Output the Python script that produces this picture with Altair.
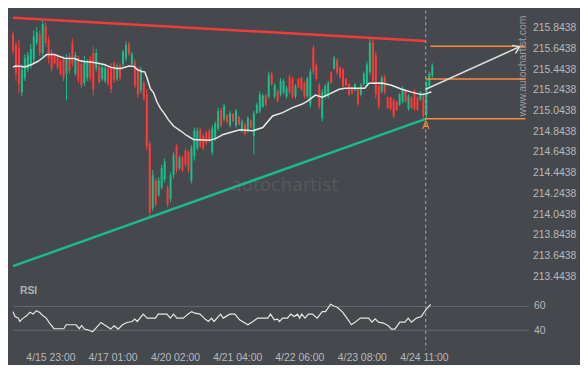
import altair as alt
import pandas as pd

# ---------------- data ----------------
bar_open = [215.78, 215.68, 215.65, 215.22, 215.36, 215.45, 215.48, 215.54, 215.70, 215.78,
            215.60, 215.86, 215.72, 215.60, 215.58, 215.56, 215.52, 215.54, 215.40, 215.57,
            215.70, 215.40, 215.55, 215.49, 215.31, 215.36, 215.54, 215.60, 215.45, 215.47,
            215.35, 215.33, 215.45, 215.47, 215.50, 215.35, 215.48, 215.49, 215.55, 215.69,
            215.49, 215.51, 215.44, 215.24, 215.31, 215.20, 214.72, 214.10, 214.37, 214.23,
            214.30, 214.38, 214.30, 214.19, 214.42, 214.70, 214.49, 214.59, 214.66, 214.64,
            214.37, 214.60, 214.68, 214.86, 214.80, 214.83, 214.85, 214.64, 214.78, 214.87,
            215.05, 214.96, 215.00, 214.90, 215.01, 214.90, 214.98, 214.85, 214.91, 214.85,
            214.95, 214.80, 215.02, 215.04, 215.08, 215.19, 215.18, 215.40, 215.18, 215.23,
            215.20, 215.22, 215.18, 215.37, 215.35, 215.18, 215.35, 215.36, 215.31, 215.18,
            215.10, 215.65, 215.48, 215.29, 214.97, 215.18, 215.18, 215.41, 215.45, 215.53,
            215.46, 215.44, 215.35, 215.30, 215.27, 215.24, 215.25, 215.20, 215.30, 215.30,
            215.42, 215.70, 215.58, 215.28, 215.23, 215.37, 215.17, 215.17, 215.14, 215.13,
            215.10, 215.13, 215.24, 215.06, 215.17, 215.23, 215.17, 215.15, 215.18, 215.00,
            215.28, 215.38]
bar_high = [215.81, 215.71, 215.73, 215.49, 215.59, 215.61, 215.69, 215.82, 215.85, 215.82,
            215.92, 215.90, 215.76, 215.63, 215.59, 215.58, 215.54, 215.57, 215.59, 215.60,
            215.74, 215.61, 215.57, 215.52, 215.57, 215.54, 215.57, 215.66, 215.64, 215.49,
            215.49, 215.48, 215.47, 215.50, 215.52, 215.50, 215.50, 215.63, 215.71, 215.71,
            215.61, 215.54, 215.47, 215.47, 215.33, 215.25, 214.75, 214.47, 214.39, 214.40,
            214.52, 214.58, 214.32, 214.45, 214.64, 214.72, 214.61, 214.61, 214.68, 214.66,
            214.71, 214.88, 214.88, 214.88, 214.82, 214.85, 214.87, 214.90, 214.94, 215.07,
            215.07, 215.11, 215.01, 215.04, 215.02, 215.06, 214.99, 214.96, 214.93, 214.99,
            214.96, 215.04, 215.12, 215.23, 215.21, 215.20, 215.42, 215.42, 215.31, 215.25,
            215.36, 215.35, 215.28, 215.39, 215.37, 215.30, 215.36, 215.37, 215.33, 215.37,
            215.45, 215.68, 215.50, 215.31, 215.25, 215.30, 215.33, 215.42, 215.57, 215.55,
            215.47, 215.45, 215.36, 215.31, 215.28, 215.31, 215.26, 215.31, 215.42, 215.52,
            215.74, 215.73, 215.61, 215.30, 215.38, 215.39, 215.18, 215.18, 215.16, 215.14,
            215.21, 215.28, 215.25, 215.20, 215.18, 215.25, 215.18, 215.23, 215.20, 215.35,
            215.42, 215.50]
bar_low = [215.59, 215.33, 215.21, 215.18, 215.33, 215.42, 215.45, 215.50, 215.68, 215.57,
           215.57, 215.66, 215.50, 215.42, 215.49, 215.44, 215.38, 215.33, 215.14, 215.40,
           215.47, 215.38, 215.31, 215.26, 215.28, 215.33, 215.33, 215.18, 215.42, 215.30,
           215.33, 215.31, 215.28, 215.21, 215.31, 215.33, 215.33, 215.47, 215.52, 215.57,
           215.47, 215.26, 215.165, 215.21, 215.14, 214.66, 214.02, 214.07, 214.11, 214.21,
           214.28, 214.35, 214.11, 214.16, 214.39, 214.44, 214.47, 214.45, 214.50, 214.44,
           214.34, 214.56, 214.66, 214.68, 214.66, 214.71, 214.73, 214.61, 214.75, 214.85,
           214.88, 214.94, 214.92, 214.88, 214.93, 214.88, 214.90, 214.83, 214.80, 214.83,
           214.87, 214.62, 215.01, 215.02, 215.07, 215.09, 215.16, 215.28, 215.16, 215.12,
           215.18, 215.20, 215.16, 215.20, 215.16, 215.16, 215.26, 215.23, 215.16, 215.16,
           215.07, 215.39, 215.33, 215.06, 214.94, 215.16, 215.16, 215.30, 215.44, 215.39,
           215.35, 215.26, 215.28, 215.18, 215.20, 215.23, 215.09, 215.18, 215.28, 215.28,
           215.39, 215.30, 215.16, 215.06, 215.21, 215.20, 215.06, 215.04, 214.97, 215.04,
           215.09, 215.11, 215.12, 215.04, 215.06, 215.04, 215.04, 215.14, 214.96, 214.97,
           215.26, 215.36]
bar_close = [215.62, 215.40, 215.30, 215.44, 215.55, 215.58, 215.64, 215.76, 215.80, 215.60,
             215.88, 215.70, 215.55, 215.45, 215.50, 215.46, 215.40, 215.36, 215.55, 215.43,
             215.50, 215.58, 215.34, 215.29, 215.52, 215.50, 215.36, 215.25, 215.60, 215.32,
             215.46, 215.45, 215.30, 215.25, 215.34, 215.47, 215.36, 215.61, 215.68, 215.59,
             215.59, 215.29, 215.20, 215.44, 215.16, 214.70, 214.06, 214.42, 214.14, 214.37,
             214.49, 214.55, 214.14, 214.42, 214.61, 214.47, 214.59, 214.47, 214.52, 214.47,
             214.68, 214.85, 214.85, 214.70, 214.68, 214.73, 214.75, 214.87, 214.92, 215.04,
             214.90, 215.09, 214.93, 215.02, 214.94, 215.04, 214.91, 214.94, 214.82, 214.97,
             214.88, 215.02, 215.10, 215.20, 215.19, 215.10, 215.39, 215.30, 215.29, 215.14,
             215.33, 215.33, 215.26, 215.22, 215.18, 215.28, 215.27, 215.25, 215.18, 215.35,
             215.42, 215.42, 215.35, 215.08, 215.22, 215.28, 215.31, 215.31, 215.55, 215.41,
             215.36, 215.28, 215.29, 215.20, 215.21, 215.30, 215.11, 215.29, 215.40, 215.49,
             215.70, 215.33, 215.20, 215.09, 215.36, 215.22, 215.07, 215.06, 214.99, 215.05,
             215.20, 215.26, 215.13, 215.18, 215.07, 215.06, 215.05, 215.22, 214.99, 215.31,
             215.40, 215.48]

ma_idx = [0, 0.7, 2.3, 4, 6.3, 8.3, 9.7, 11.3, 14, 15.7, 17.3, 20.7, 22.3, 24, 27.3, 30.7,
          33, 35, 36.3, 39, 40.7, 41.7, 43.3, 44.3, 45.1, 46.2, 47.3, 48.4, 49.6, 50.7, 52.3,
          54, 56.2, 58.4, 60.7, 64, 66.2, 68.3, 70.7, 76.3, 80.7, 84, 87.3, 90.7, 94, 97.3,
          99, 101.7, 104, 106.3, 109.7, 111.7, 115, 118.3, 119.7, 124, 127.3, 130.7, 134,
          137.3, 138.7, 140.7]
ma_val = [215.461, 215.475, 215.473, 215.465, 215.489, 215.518, 215.547, 215.585, 215.585,
          215.566, 215.550, 215.547, 215.528, 215.518, 215.508, 215.489, 215.461, 215.451,
          215.451, 215.475, 215.470, 215.441, 215.422, 215.418, 215.359, 215.256, 215.215,
          215.129, 215.065, 215.024, 214.954, 214.894, 214.851, 214.803, 214.765, 214.760,
          214.758, 214.775, 214.813, 214.858, 214.849, 214.880, 214.992, 215.024, 215.072,
          215.107, 215.136, 215.193, 215.174, 215.203, 215.250, 215.260, 215.260, 215.260,
          215.308, 215.311, 215.289, 215.250, 215.222, 215.198, 215.203, 215.226]

rsi_idx = [0, 0.7, 1.8, 2.3, 3.4, 4.6, 5.7, 6.8, 7.9, 9.0, 10.1, 11.2, 12.3, 13.8, 17.1, 17.9,
           21.2, 22.3, 23.1, 24, 25.1, 26.8, 27.9, 29.6, 30.7, 32.9, 34, 35.4, 36.8, 38.4,
           40.1, 41, 41.8, 43.8, 45.1, 47.9, 48.8, 51.8, 52.9, 54, 55.1, 57.3, 58.8, 60.1,
           61.2, 62.9, 64.6, 65.7, 66.8, 67.6, 69.8, 70.7, 72.9, 74.6, 76.2, 79, 80.7, 82.3,
           85.7, 86.6, 87.9, 89, 89.6, 90.7, 92.3, 93.4, 94.6, 95.7, 96.4, 97.1, 98.2, 99.3,
           100.7, 102.3, 104, 105.1, 106.8, 107.9, 109, 110.7, 112.3, 113.8, 115.1, 116.8,
           119.6, 120.7, 121.8, 122.9, 124.6, 126.2, 127.3, 128.4, 130.1, 131.8, 132.9, 134,
           135.7, 137.3, 138.4, 140.4]
rsi_val = [55.3, 51.2, 49.9, 47.1, 49.9, 51.8, 54.8, 53.4, 56.1, 54.5, 51.8, 49.9, 45.8, 41.1,
           41.1, 44.4, 44.4, 41.1, 43.8, 40.8, 40.2, 38.6, 41.6, 46.3, 44.4, 40.8, 43.5, 40.8,
           44.4, 46.3, 47.1, 49.1, 47.1, 53.2, 49.9, 49.9, 53.2, 53.2, 49.9, 53.2, 49.9, 49.9,
           53.2, 55.3, 54.0, 53.2, 49.1, 47.1, 49.9, 47.1, 53.2, 49.9, 53.2, 53.2, 48.5, 44.4,
           47.1, 49.9, 49.9, 53.2, 48.5, 49.1, 47.1, 49.9, 49.9, 53.2, 51.2, 53.2, 49.9, 53.2,
           49.9, 53.2, 53.2, 49.9, 55.3, 55.3, 61.4, 60.0, 58.9, 55.3, 49.9, 44.4, 46.6, 49.9,
           49.9, 46.6, 49.3, 46.6, 45.8, 43.5, 40.8, 40.8, 46.6, 46.6, 49.9, 46.6, 49.9, 51.2,
           55.3, 61.4]

res_idx = [0, 138.8]
res_val = [215.940, 215.717]
sup_idx = [0, 138.8]
sup_val = [213.540, 214.964]

lvl_start = [140.3, 138.8, 138.8]
lvl_end = [172.3, 172.3, 172.3]
lvl_val = [215.666, 215.349, 214.964]

arrow_idx = [138.8, 170.3]
arrow_val = [215.250, 215.660]

signal_idx = [138.8]
point_a_val = [214.895]

price_ticks = [215.8438, 215.6438, 215.4438, 215.2438, 215.0438, 214.8438, 214.6438,
               214.4438, 214.2438, 214.0438, 213.8438, 213.6438, 213.4438]
rsi_ticks = [40, 60]
time_pos = [12.6, 33.5, 54.5, 75.4, 96.3, 117.3, 138.2]
time_lab = ["4/15 23:00", "4/17 01:00", "4/20 02:00", "4/21 04:00", "4/22 06:00",
            "4/23 08:00", "4/24 11:00"]

# ---------------- styling ----------------
BG = "#45484c"
UP = "#14c28b"
DOWN = "#ff3a3a"
RES = "#f23c3c"
SUP = "#1cba8b"
ORANGE = "#ff8838"
LBL = "#b7b9bc"
FONT = "Liberation Sans"

candles = pd.DataFrame({"i": list(range(len(bar_open))), "o": bar_open, "h": bar_high,
                        "l": bar_low, "c": bar_close})
candles["dir"] = ["up" if c >= o else "down" for o, c in zip(bar_open, bar_close)]

XS = alt.Scale(domain=[0, 173.333], nice=False, zero=False, padding=0)
YS = alt.Scale(domain=[213.3762, 216.0103], nice=False, zero=False, padding=0)
RS = alt.Scale(domain=[15.56, 78.93], nice=False, zero=False, padding=0)
col = alt.Color("dir:N", scale=alt.Scale(domain=["up", "down"], range=[UP, DOWN]), legend=None)

price_axis = alt.Axis(orient="right", values=price_ticks, format=".4f", ticks=False,
                      domain=False, grid=False, labelPadding=4, labelColor=LBL,
                      labelFontSize=10.5, labelFont=FONT, title=None, labelOverlap=False)
expr = " : ".join(f"abs(datum.value - {p}) < 0.01 ? '{t}'" for p, t in zip(time_pos, time_lab)) + " : ''"
x_axis = alt.Axis(values=time_pos, labelExpr=expr, ticks=False, domain=False, grid=False,
                  labelPadding=-2, labelBaseline="middle", labelColor=LBL,
                  labelFontSize=10.5, labelFont=FONT, title=None, labelOverlap=False,
                  labelFlush=False)
rsi_axis = alt.Axis(orient="right", values=rsi_ticks, grid=True, gridColor="#65686c",
                    gridWidth=1, ticks=False, domain=False, labelPadding=5, labelColor=LBL,
                    labelFontSize=10.5, labelFont=FONT, title=None)


def X(f):
    return alt.X(f, scale=XS, axis=None, title=None)


def Y(f):
    return alt.Y(f, scale=YS, axis=price_axis, title=None)


def XB(f):
    return alt.X(f, scale=XS, axis=x_axis, title=None)


wm_big = alt.Chart(pd.DataFrame({"t": ["autochartist"]})).mark_text(
    font="DejaVu Sans", fontSize=18, color="#55585c", align="center", baseline="middle"
).encode(x=alt.value(274), y=alt.value(177), text="t:N")
wm_url = alt.Chart(pd.DataFrame({"t": ["www.autochartist.com"]})).mark_text(
    font=FONT, fontSize=10.5, color="#9a9da0", angle=270, align="center", baseline="middle"
).encode(x=alt.value(515), y=alt.value(56), text="t:N")

wicks = alt.Chart(candles).mark_rule(strokeWidth=1).encode(
    x=X("i:Q"), y=Y("l:Q"), y2="h", color=col)
bodies = alt.Chart(candles).mark_bar(width=2).encode(x=X("i:Q"), y=Y("o:Q"), y2="c", color=col)

ma = alt.Chart(pd.DataFrame({"i": ma_idx, "p": ma_val})).mark_line(
    color="#e9e9e9", strokeWidth=1.5).encode(x=X("i:Q"), y=Y("p:Q"))
res = alt.Chart(pd.DataFrame({"i": res_idx, "p": res_val})).mark_line(
    color=RES, strokeWidth=2.5).encode(x=X("i:Q"), y=Y("p:Q"))
sup = alt.Chart(pd.DataFrame({"i": sup_idx, "p": sup_val})).mark_line(
    color=SUP, strokeWidth=2.5).encode(x=X("i:Q"), y=Y("p:Q"))
levels = alt.Chart(pd.DataFrame({"a": lvl_start, "b": lvl_end, "p": lvl_val})).mark_rule(
    color=ORANGE, strokeWidth=1.5).encode(x=X("a:Q"), x2="b", y=Y("p:Q"))
arrow = alt.Chart(pd.DataFrame({"i": arrow_idx, "p": arrow_val})).mark_line(
    color="#dcdcdc", strokeWidth=1.5).encode(x=X("i:Q"), y=Y("p:Q"))
head = alt.Chart(pd.DataFrame({"i": arrow_idx[-1:], "p": arrow_val[-1:]})).mark_point(
    shape="M -1 -0.7 L 0 0 L -1 0.7", filled=False, size=160, angle=335.7,
    color="#dcdcdc", strokeWidth=1.5, opacity=1).encode(x=X("i:Q"), y=Y("p:Q"))
label_a = alt.Chart(pd.DataFrame({"i": signal_idx, "p": point_a_val, "t": ["A"]})).mark_text(
    color=ORANGE, fontSize=11, font=FONT, align="center", baseline="middle"
).encode(x=X("i:Q"), y=Y("p:Q"), text="t:N")
vline = alt.Chart(pd.DataFrame({"i": signal_idx})).mark_rule(
    color="#a9acaf", strokeWidth=1, strokeDash=[3, 3]).encode(x=X("i:Q"))

top = alt.layer(wicks, wm_big, wm_url, bodies, ma, res, sup, vline, levels, arrow, head,
                label_a).properties(width=520, height=275)

rsi_line = alt.Chart(pd.DataFrame({"i": rsi_idx, "v": rsi_val})).mark_line(
    color="#e6e6e6", strokeWidth=1.2).encode(
    x=XB("i:Q"), y=alt.Y("v:Q", scale=RS, axis=rsi_axis, title=None))
rsi_vline = alt.Chart(pd.DataFrame({"i": signal_idx})).mark_rule(
    color="#a9acaf", strokeWidth=1, strokeDash=[3, 3]).encode(
    x=XB("i:Q"), y=alt.value(0), y2=alt.value(67))
rsi_title = alt.Chart(pd.DataFrame({"t": ["RSI"]})).mark_text(
    font=FONT, fontSize=10.5, fontWeight="bold", color="#aeb1b4", align="left",
    baseline="middle").encode(x=alt.value(7), y=alt.value(8), text="t:N")

bottom = alt.layer(rsi_line, rsi_vline, rsi_title).properties(width=520, height=77)

chart = alt.vconcat(top, bottom, spacing=0, bounds="flush", background=BG,
                    padding={"left": 0, "top": 0, "right": 4, "bottom": 0}
                    ).configure_view(stroke=None)

chart.save("out.html", embed_options={"renderer": "svg", "actions": False})
